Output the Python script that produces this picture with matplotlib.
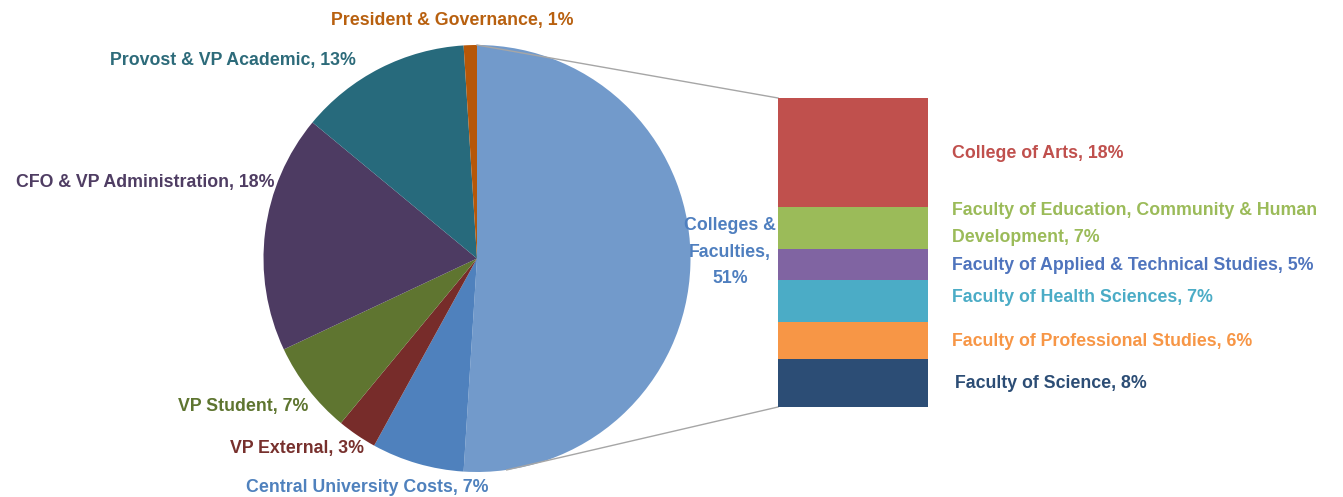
import matplotlib
matplotlib.use("Agg")
import matplotlib.pyplot as plt
import numpy as np

plt.rcParams['font.family'] = ['Liberation Sans', 'DejaVu Sans']
plt.rcParams['font.weight'] = 'bold'

# pie data (clockwise from 12 o'clock)
pie_labels = ['Colleges &\nFaculties,\n51%', 'Central University Costs, 7%', 'VP External, 3%',
              'VP Student, 7%', 'CFO & VP Administration, 18%', 'Provost & VP Academic, 13%',
              'President & Governance, 1%']
pie_values = [51, 7, 3, 7, 18, 13, 1]
pie_colors = ['#729ACB', '#4F81BD', '#772C2A', '#5F7530', '#4D3B62', '#276A7C', '#B65708']
pie_text_colors = ['#4F7FBF', '#4F81BD', '#77302D', '#5E7530', '#4F3D63', '#2D6B7A', '#B8600F']

# breakdown of Colleges & Faculties (top to bottom)
bar_labels = ['College of Arts, 18%', 'Faculty of Education, Community & Human\nDevelopment, 7%',
              'Faculty of Applied & Technical Studies, 5%', 'Faculty of Health Sciences, 7%',
              'Faculty of Professional Studies, 6%', 'Faculty of Science, 8%']
bar_values = [18, 7, 5, 7, 6, 8]
bar_colors = ['#C0504D', '#9BBB59', '#8064A2', '#4BACC6', '#F79646', '#2C4D75']
bar_text_colors = ['#C0504D', '#9BBB59', '#4F74BD', '#4BACC6', '#F79646', '#2C4D75']

W, H = 1343, 497
fig = plt.figure(figsize=(W / 100, H / 100), dpi=100)

# main axes in pixel coordinates (label y measured from the top of the image)
ax = fig.add_axes([0, 0, 1, 1])
cx, cy, r = 477, H - 258.5, 213.5
ax.pie(pie_values, colors=pie_colors, startangle=90, counterclock=False,
       center=(cx, cy), radius=r, wedgeprops=dict(linewidth=0))
ax.set_xlim(0, W)
ax.set_ylim(0, H)
ax.set_aspect('equal')
ax.axis('off')

fs = 12.8

# pie labels
pie_pos = [(730, 252), (367, 487), (297, 449), (243, 406), (145, 183), (233, 60), (452, 20)]
for lab, col, (x, y) in zip(pie_labels, pie_text_colors, pie_pos):
    ax.text(x, H - y, lab, color=col, fontsize=fs, ha='center', va='center',
            linespacing=1.75)

# stacked bar for the breakdown
bx0, by_top, bw, bh = 778, 98, 150, 309
bax = fig.add_axes([bx0 / W, (H - by_top - bh) / H, bw / W, bh / H])
bottom = 0
for v, c in zip(bar_values[::-1], bar_colors[::-1]):
    bax.bar(0, v, bottom=bottom, width=1, color=c, linewidth=0)
    bottom += v
bax.set_xlim(-0.5, 0.5)
bax.set_ylim(0, sum(bar_values))
bax.axis('off')

# connector lines
line_c = '#A6A6A6'
ax.plot([cx, bx0], [cy + r, H - by_top], color=line_c, lw=1)
ang = np.deg2rad(-82)
ax.plot([cx + r * np.cos(ang), bx0], [cy + r * np.sin(ang), H - by_top - bh], color=line_c, lw=1)

# bar labels
bar_pos = [(952, 153), (952, 224), (952, 265), (952, 298), (952, 342), (955, 383)]
for lab, col, (x, y) in zip(bar_labels, bar_text_colors, bar_pos):
    ax.text(x, H - y, lab, color=col, fontsize=fs, ha='left', va='center',
            linespacing=1.75)

fig.savefig('out.png', dpi=100)
